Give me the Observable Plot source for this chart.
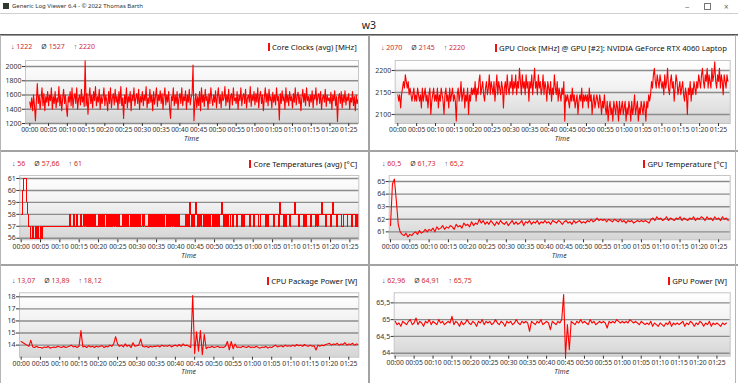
<!DOCTYPE html>
<html><head><meta charset="utf-8">
<script src="https://cdn.jsdelivr.net/npm/d3@7"></script>
<script src="https://cdn.jsdelivr.net/npm/@observablehq/plot@0.6"></script>
<style>
html,body{margin:0;padding:0;background:#fff;}
body{width:738px;height:383px;position:relative;overflow:hidden;font-family:"Noto Sans","Open Sans",sans-serif;color:#222;}
.stats{position:absolute;font-size:7px;white-space:nowrap;line-height:10px;transform:translateY(-50%);}
.stats .ar{color:#444;}
.stats .val{color:#d22a2a;margin-right:9px;}
.ptitle{position:absolute;font-size:7.7px;white-space:nowrap;line-height:12px;transform:translateY(-50%);color:#111;}
.ptitle .bar{display:inline-block;width:2px;height:8px;background:#ee1111;margin-right:2px;vertical-align:-1px;}
.time{position:absolute;font-size:7px;font-style:italic;color:#333;transform:translate(-50%,-50%);line-height:10px;}
</style></head><body>
<svg width="0" height="0" style="position:absolute;left:0;top:0"><defs>
<linearGradient id="plotGrad" x1="0" y1="0" x2="0" y2="1">
<stop offset="0" stop-color="#ffffff"/><stop offset="0.4" stop-color="#f3f3f3"/><stop offset="1" stop-color="#d5d5d5"/>
</linearGradient></defs></svg>
<script>
// ---- data ----
const STEP_FINE = 0.25;  // minutes between samples (fine series)
const STEP_COARSE = 0.5; // minutes between samples (coarse series)
const X_TICKS = [0,5,10,15,20,25,30,35,40,45,50,55,60,65,70,75,80,85];

const TITLES = [
  "Core Clocks (avg) [MHz]",
  "GPU Clock [MHz] @ GPU [#2]: NVIDIA GeForce RTX 4060 Laptop",
  "Core Temperatures (avg) [°C]",
  "GPU Temperature [°C]",
  "CPU Package Power [W]",
  "GPU Power [W]"
];
const STAT_MIN = ["1222","2070","56","60,5","13,07","62,96"];
const STAT_AVG = ["1527","2145","57,66","61,73","13,89","64,91"];
const STAT_MAX = ["2220","2220","61","65,2","18,12","65,75"];

const Y_TICKS_CORE_CLOCK = [1200,1400,1600,1800,2000];
const Y_TICKS_GPU_CLOCK = [2100,2150,2200];
const Y_TICKS_CORE_TEMP = [56,57,58,59,60,61];
const Y_TICKS_GPU_TEMP = [61,62,63,64,65];
const Y_TICKS_CPU_POWER = [14,15,16,17,18];
const Y_TICKS_GPU_POWER = [64,64.5,65,65.5];

// every 0.25 min
const coreClock = [
1500,1420,1560,1380,1600,1450,1240,1520,1760,1480,1600,1400,1550,1700,1450,1620,1380,1580,1500,1650,
1450,1600,1520,1700,1400,1580,1480,1650,1420,1560,1500,1720,1450,1600,1380,1550,1680,1480,1600,1420,
1300,1580,1500,1650,1450,1700,1420,1560,1620,1480,1700,1400,1550,1600,1460,1680,1500,1580,1440,2080,
1450,1620,1330,1560,1700,1480,1600,1420,1650,1520,1720,1450,1580,1500,1680,1400,1600,1480,1560,1700,
1450,1600,1520,1380,1650,1480,1700,1420,1560,1620,1460,1680,1500,1580,1400,1650,1480,1720,1450,1560,
1270,1600,1480,1700,1420,1580,1500,1650,1380,1600,1520,1700,1450,1560,1620,1480,1680,1400,1580,1500,
1650,1450,1600,1520,1720,1420,1560,1480,1680,1500,1600,1380,1650,1470,1580,1700,1440,1600,1520,1660,
1480,1620,1400,1580,1700,1460,1600,1500,1650,1420,1270,1580,1520,1700,1450,1600,1480,1650,1400,1560,
1620,1480,1700,1450,1580,1520,1660,1400,1600,1500,1680,1460,1560,1620,2020,1240,1500,1620,1420,1580,
1450,1650,1380,1700,1500,1600,1440,1680,1520,1580,1400,1620,1480,1700,1550,1450,1600,1500,1660,1420,
1580,1700,1480,1600,1420,1650,1520,1560,1720,1450,1600,1500,1680,1400,1580,1620,1460,1700,1520,1560,
1480,1650,1400,1600,1520,1700,1450,1580,1620,1480,1680,1420,1560,1600,1500,1720,1440,1600,1520,1650,
1460,1620,1500,1700,1420,1580,1650,1480,1600,1380,1560,1700,1500,1620,1450,1680,1520,1580,1420,1640,
1500,1600,1460,1700,1520,1580,1250,1620,1480,1660,1520,1580,1400,1700,1500,1600,1450,1650,1520,1580,
1420,1620,1500,1700,1460,1580,1640,1480,1600,1380,1560,1680,1500,1620,1450,1700,1520,1580,1440,1600,
1500,1660,1420,1600,1540,1700,1460,1580,1620,1480,1650,1400,1560,1600,1500,1680,1440,1600,1520,1560,
1480,1640,1400,1600,1520,1660,1450,1580,1230,1560,1620,1480,1650,1420,1600,1500,1660,1460,1580,1520,
1620,1400,1560,1500,1650,1450,1580,1380,1600,1480,1540
];

// every 0.25 min
const gpuClock = [
2145,2130,2145,2115,2145,2160,2175,2160,2190,2175,2160,2175,2145,2160,2145,2130,2145,2160,2130,2145,
2130,2160,2145,2130,2145,2115,2160,2130,2145,2160,2130,2145,2115,2145,2160,2100,2130,2145,2160,2130,
2145,2130,2160,2115,2145,2130,2160,2145,2130,2100,2145,2160,2130,2145,2115,2160,2130,2145,2160,2130,
2145,2130,2085,2145,2160,2130,2145,2175,2130,2145,2160,2115,2145,2130,2160,2100,2145,2130,2160,2145,
2160,2145,2175,2130,2160,2145,2175,2190,2145,2160,2175,2145,2130,2160,2175,2145,2160,2190,2145,2175,
2160,2145,2175,2130,2160,2190,2145,2175,2160,2145,2175,2160,2115,2160,2175,2145,2190,2160,2145,2175,
2160,2190,2145,2175,2160,2190,2145,2175,2160,2205,2175,2145,2190,2160,2175,2145,2190,2160,2175,2130,
2175,2160,2190,2145,2175,2205,2160,2175,2145,2190,2160,2175,2145,2160,2190,2145,2175,2160,2130,2175,
2160,2145,2175,2130,2160,2145,2190,2160,2145,2175,2130,2160,2145,2130,2160,2145,2175,2085,2145,2130,
2145,2130,2115,2145,2130,2160,2130,2145,2115,2130,2145,2100,2130,2145,2130,2160,2115,2145,2130,2145,
2130,2145,2115,2160,2130,2145,2100,2130,2145,2115,2130,2145,2130,2115,2145,2130,2100,2130,2115,2145,
2115,2100,2130,2085,2115,2130,2100,2115,2085,2130,2115,2100,2130,2115,2085,2130,2100,2115,2130,2100,
2115,2130,2085,2115,2100,2130,2115,2085,2130,2100,2115,2145,2100,2115,2130,2085,2115,2100,2130,2115,
2100,2130,2115,2085,2130,2115,2145,2130,2145,2175,2160,2190,2205,2175,2160,2190,2175,2160,2190,2175,
2160,2175,2145,2190,2160,2175,2205,2160,2145,2175,2190,2160,2175,2130,2160,2190,2175,2145,2160,2175,
2145,2160,2175,2145,2130,2160,2145,2100,2160,2145,2175,2130,2160,2145,2175,2160,2145,2175,2160,2190,
2175,2160,2190,2205,2175,2160,2190,2175,2205,2160,2190,2175,2160,2205,2175,2190,2220,2175,2160,2190,
2175,2205,2160,2190,2175,2145,2190,2175,2160,2190,2175
];

// every 0.25 min
const coreTemp = [
58,60,61,61,61,60,59,58,57,57,56,56,57,56,56,57,56,57,56,56,
57,56,57,57,57,57,57,57,57,57,57,57,57,57,57,57,57,57,57,57,
57,57,57,57,57,57,57,57,57,57,58,57,57,57,58,57,57,58,57,57,
57,58,57,57,58,57,58,57,58,57,58,57,58,57,58,57,58,57,57,57,
58,57,58,57,58,57,58,58,57,58,57,58,57,58,57,58,57,58,57,58,
57,58,57,57,57,58,57,58,57,58,57,58,58,57,58,57,58,57,58,57,
58,57,58,57,57,58,57,58,57,57,57,57,58,57,58,57,58,57,58,57,
58,57,58,57,58,57,58,57,58,58,57,58,57,58,57,58,57,58,57,58,
57,58,57,58,57,57,57,57,57,57,58,57,58,57,59,58,57,58,57,58,
59,58,57,58,57,58,57,58,58,57,58,57,58,57,58,57,58,58,57,58,
57,58,57,58,57,58,58,59,58,57,58,57,58,57,58,58,57,58,58,57,
58,58,58,57,58,58,58,58,57,58,57,58,58,58,58,58,57,58,58,58,
57,58,58,58,58,57,57,57,58,58,58,58,58,57,58,57,58,58,58,58,
58,57,58,58,58,58,57,59,58,58,58,57,58,57,58,58,58,58,57,58,
58,58,58,59,58,58,58,57,58,58,58,58,57,58,57,58,58,58,58,57,
58,58,58,58,57,58,57,58,58,58,58,59,58,58,58,57,58,58,58,58,
57,58,59,58,58,58,57,58,58,58,58,57,57,58,58,58,58,57,58,58,
58,58,57,58,58,58,57,58,57,58,58
];

// every 0.5 min
const gpuTemp = [
61.5,64.8,65.2,63.5,61.6,61.0,60.8,60.7,60.9,60.6,
60.8,60.7,60.9,61.0,60.8,61.1,60.9,61.0,61.2,61.0,
61.2,61.1,61.3,61.0,61.4,61.2,61.3,61.5,61.2,61.4,
61.3,61.5,61.4,61.2,61.6,61.4,61.5,61.3,61.7,61.5,
61.6,61.4,61.8,61.5,61.7,61.6,62.0,61.7,61.9,61.6,
61.8,61.6,61.9,61.7,61.5,61.8,61.6,61.9,61.7,61.6,
61.8,61.5,61.7,61.9,61.6,61.8,61.6,61.7,61.9,61.5,
61.8,61.7,61.9,61.6,61.8,61.7,61.9,61.6,61.8,61.7,
61.9,61.7,61.8,61.6,61.9,61.8,61.7,61.9,61.8,61.6,
61.8,61.9,61.7,61.8,61.6,61.9,61.7,61.8,61.9,61.7,
61.8,61.7,61.9,61.8,62.0,61.8,61.9,62.1,61.9,62.0,
61.9,62.0,61.8,62.0,61.9,61.8,62.0,61.9,61.8,62.0,
61.8,61.9,61.7,61.9,61.8,61.9,61.7,61.8,61.9,61.8,
61.9,61.8,61.9,61.8,61.7,62.0,62.1,61.9,62.2,62.0,
62.1,61.9,62.0,62.2,61.9,62.1,62.0,61.9,62.1,62.0,
62.2,61.9,62.1,62.0,61.9,62.1,62.0,62.2,61.9,62.1,
62.0,62.2,62.1,61.9,62.2,62.0,62.1,61.9,62.2,62.0,
62.1,61.9,62.2,62.0,62.1,61.9
];

// every 0.5 min
const cpuPower = [
14.3,14.2,14.1,14.0,13.9,14.4,13.85,13.8,13.9,13.8,
13.8,13.75,13.85,13.8,13.9,13.75,13.8,13.85,13.8,13.9,
13.85,13.8,13.9,13.8,13.85,13.9,14.0,13.85,13.9,13.8,
13.9,15.2,13.85,13.9,13.8,13.95,13.85,13.9,13.8,13.9,
13.85,13.9,13.95,13.8,13.9,13.85,14.0,13.9,14.1,14.7,
14.1,13.9,14.0,13.85,14.1,13.9,14.0,13.8,14.2,13.9,
13.95,14.0,14.5,13.9,13.85,13.9,13.8,13.9,13.85,13.9,
13.9,13.95,13.85,14.0,13.9,13.95,13.9,14.0,13.85,13.95,
14.0,13.9,14.05,13.9,14.1,13.95,14.0,13.9,13.8,18.1,
13.3,15.1,13.5,15.2,13.2,14.9,13.7,13.85,13.8,13.9,
13.8,13.85,13.9,13.8,13.85,13.8,13.9,14.3,13.6,14.3,
13.7,14.1,13.8,13.85,13.8,13.9,13.85,13.8,13.9,13.8,
13.85,13.8,13.9,13.8,13.75,13.85,13.8,13.9,13.75,13.85,
13.8,13.9,14.0,13.85,13.9,13.95,13.85,14.0,13.9,13.95,
13.9,14.0,13.9,14.05,13.95,14.0,13.9,14.05,13.95,13.9,
14.0,13.9,13.95,13.6,14.0,13.9,14.0,13.95,14.05,14.1,
14.15,14.0,14.1,14.05,14.15,14.0,14.1,14.05,14.2,14.0,
14.1,14.05,14.15,14.0,14.1,14.05
];

// every 0.5 min
const gpuPower = [
64.95,64.85,64.9,64.8,64.95,64.9,64.85,64.95,65.0,64.85,
64.9,65.05,64.85,64.95,64.9,64.8,64.95,64.9,65.0,64.85,
64.95,64.9,64.85,65.0,64.9,64.95,64.85,64.9,64.95,64.9,
65.1,64.85,64.95,64.9,64.8,64.95,64.85,64.9,65.0,64.9,
64.85,64.95,64.9,64.8,64.95,64.9,65.0,64.85,64.95,64.9,
64.95,64.85,64.9,65.0,64.9,64.85,64.95,64.9,64.8,64.95,
64.9,64.95,64.85,64.9,65.0,64.9,64.85,64.95,64.9,64.95,
64.9,64.65,64.95,64.9,64.85,64.95,64.9,65.0,64.85,64.9,
64.95,64.9,64.7,64.95,64.9,64.85,64.95,64.9,65.0,65.75,
63.92,64.85,64.1,64.95,64.9,64.85,64.95,64.9,65.0,64.9,
64.95,64.9,64.85,65.0,64.9,64.95,64.85,64.9,64.95,64.9,
64.95,64.9,64.75,64.95,64.9,64.95,64.9,65.0,64.95,64.9,
64.95,64.9,64.95,64.9,65.0,64.95,64.9,64.95,64.9,64.85,
64.95,64.9,64.85,64.9,64.85,64.95,64.8,64.9,64.85,64.8,
64.9,64.85,64.8,64.9,64.85,64.95,64.8,64.9,64.85,64.9,
64.85,64.9,64.95,64.8,64.9,64.85,64.95,64.9,64.8,64.9,
64.85,64.95,64.9,64.8,64.9,64.85,64.95,64.8,64.9,64.85,
64.9,64.85,64.8,64.9,64.85,64.9
];

// ---- layout ----
const panels = [
  {i:0, values:coreClock, step:STEP_FINE, yTicks:Y_TICKS_CORE_CLOCK, yDomain:[1200,2085], xDomain:[-1.15,87.6], curve:"linear",
   left:0, top:36, w:368, h:113, box:{l:25,t:60,r:358,b:123}, statX:11, statY:47.3, titleR:356.7, timeY:139},
  {i:1, values:gpuClock, step:STEP_FINE, yTicks:Y_TICKS_GPU_CLOCK, yDomain:[2079.5,2222.7], xDomain:[-0.69,88.1], curve:"linear",
   left:370, top:36, w:368, h:113, box:{l:394.7,t:60,r:729.7,b:123}, statX:381, statY:47.5, titleR:727, timeY:139},
  {i:2, values:coreTemp, step:STEP_FINE, yTicks:Y_TICKS_CORE_TEMP, yDomain:[55.87,61.25], xDomain:[-0.36,87.3], curve:"step-after", crisp:true,
   left:0, top:150, w:368, h:113, box:{l:19.3,t:175,r:358.3,b:239.3}, statX:12, statY:164.3, titleR:357.3, timeY:256},
  {i:3, values:gpuTemp, step:STEP_COARSE, yTicks:Y_TICKS_GPU_TEMP, yDomain:[60.37,65.48], xDomain:[-0.34,88.0], curve:"linear",
   left:370, top:150, w:368, h:113, box:{l:388.7,t:175,r:729.7,b:239.3}, statX:382, statY:164.3, titleR:727, timeY:256},
  {i:4, values:cpuPower, step:STEP_COARSE, yTicks:Y_TICKS_CPU_POWER, yDomain:[13.0,18.33], xDomain:[-0.44,87.6], curve:"linear",
   left:0, top:264, w:368, h:119, box:{l:19,t:292.3,r:358.3,b:356.7}, statX:12, statY:280.7, titleR:357.3, timeY:372.3},
  {i:5, values:gpuPower, step:STEP_COARSE, yTicks:Y_TICKS_GPU_POWER, yDomain:[63.91,65.8], xDomain:[-0.26,88.5], curve:"linear",
   left:370, top:264, w:368, h:119, box:{l:393.7,t:292.3,r:729.7,b:355.7}, statX:382, statY:280.7, titleR:727, timeY:372.3}
];

const FONT = '"Noto Sans","Open Sans",sans-serif';
const fmtTime = m => String(Math.floor(m/60)).padStart(2,"0") + ":" + String(m%60).padStart(2,"0");
const fmtNum = d => String(d).replace(".", ",");

function addDiv(style, cls, html) {
  const d = document.createElement("div");
  if (cls) d.className = cls;
  d.setAttribute("style", style);
  if (html != null) d.innerHTML = html;
  document.body.append(d);
  return d;
}

// window chrome
addDiv("position:absolute;left:0;top:0;width:738px;height:13px;background:#fff;");
addDiv("position:absolute;left:3px;top:3px;width:6px;height:6px;background:#2d3a2d;");
addDiv("position:absolute;left:12px;top:1px;font-size:6px;line-height:11px;color:#333;white-space:nowrap;", null, "Generic Log Viewer 6.4 - © 2022 Thomas Barth");
addDiv("position:absolute;left:685px;top:1px;font-size:8px;line-height:11px;color:#666;", null, "−");
addDiv("position:absolute;left:704px;top:3px;width:5px;height:5px;border:1px solid #777;");
addDiv("position:absolute;left:724px;top:1px;font-size:8px;line-height:11px;color:#666;", null, "×");
addDiv("position:absolute;left:0;top:13px;width:738px;height:1px;background:#cfcfcf;");
addDiv("position:absolute;left:369px;top:25px;font-size:10.5px;line-height:14px;color:#222;transform:translate(-50%,-50%);", null, "w3");
addDiv("position:absolute;left:0;top:34px;width:738px;height:1px;background:#555;");
addDiv("position:absolute;left:0;top:35px;width:738px;height:1px;background:#999;");
// panel separators
addDiv("position:absolute;left:367.5px;top:35px;width:2px;height:348px;background:#a3a3a3;");
addDiv("position:absolute;left:0;top:149.5px;width:738px;height:2px;background:#a3a3a3;");
addDiv("position:absolute;left:0;top:263.5px;width:738px;height:2px;background:#a3a3a3;");
addDiv("position:absolute;left:0;top:35px;width:1px;height:348px;background:#b5b5b5;");
addDiv("position:absolute;left:735px;top:35px;width:1px;height:348px;background:#b5b5b5;");

for (const p of panels) {
  const data = p.values.map((v, k) => ({t: k * p.step, v}));
  const svg = Plot.plot({
    width: p.w, height: p.h,
    marginLeft: p.box.l - p.left, marginRight: p.left + p.w - p.box.r,
    marginTop: p.box.t - p.top, marginBottom: p.top + p.h - p.box.b,
    style: {background: "transparent", fontFamily: FONT, color: "#333", overflow: "visible"},
    x: {domain: p.xDomain},
    y: {domain: p.yDomain},
    marks: [
      Plot.frame({fill: "url(#plotGrad)", stroke: "#c6c6c6", strokeWidth: 1}),
      Plot.gridY({ticks: p.yTicks, stroke: "#8c8c8c", strokeOpacity: 1, strokeWidth: 1.4}),
      Plot.line(data, {x: "t", y: "v", stroke: "#ff0000", strokeWidth: p.crisp ? 1 : 1.1, curve: p.curve, clip: true,
        shapeRendering: p.crisp ? "crispEdges" : undefined}),
      Plot.axisY({ticks: p.yTicks, tickFormat: fmtNum, tickSize: 3, tickPadding: 1, fontSize: 7, label: null}),
      Plot.axisX({ticks: X_TICKS, tickFormat: fmtTime, tickSize: 3, tickPadding: 1, fontSize: 6.8, label: null})
    ]
  });
  svg.style.position = "absolute";
  svg.style.left = p.left + "px";
  svg.style.top = p.top + "px";
  document.body.append(svg);

  addDiv(`left:${p.statX}px;top:${p.statY}px;`, "stats",
    `<span class="ar">↓</span> <span class="val">${STAT_MIN[p.i]}</span>` +
    `<span class="ar">Ø</span> <span class="val">${STAT_AVG[p.i]}</span>` +
    `<span class="ar">↑</span> <span class="val">${STAT_MAX[p.i]}</span>`);
  addDiv(`right:${738 - p.titleR}px;top:${p.statY}px;`, "ptitle",
    `<span class="bar"></span>${TITLES[p.i]}`);
  addDiv(`left:${(p.box.l + p.box.r) / 2}px;top:${p.timeY}px;`, "time", "Time");
}
</script>
</body></html>
